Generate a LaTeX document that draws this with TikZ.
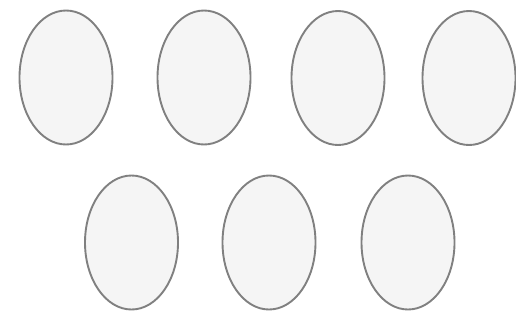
\documentclass[tikz,border=0pt]{standalone}
\usetikzlibrary{shapes.geometric}
\begin{document}
\begin{tikzpicture}[x=1pt,y=-1pt,
  oval/.style={draw=black!50,line width=1.9pt,fill=black!4,ellipse,inner sep=0pt,minimum width=93pt,minimum height=134pt}]
\fill[white] (0,0) rectangle (516,330);
\useasboundingbox (0,0) rectangle (516,330);
\node[oval] (e1) at (66,77.5) {};
\node[oval] (e2) at (204,77.5) {};
\node[oval] (e3) at (338,78) {};
\node[oval] (e4) at (469,78) {};
\node[oval] (e5) at (131.5,242.5) {};
\node[oval] (e6) at (269,242.5) {};
\node[oval] (e7) at (408,242.5) {};
\end{tikzpicture}
\end{document}
